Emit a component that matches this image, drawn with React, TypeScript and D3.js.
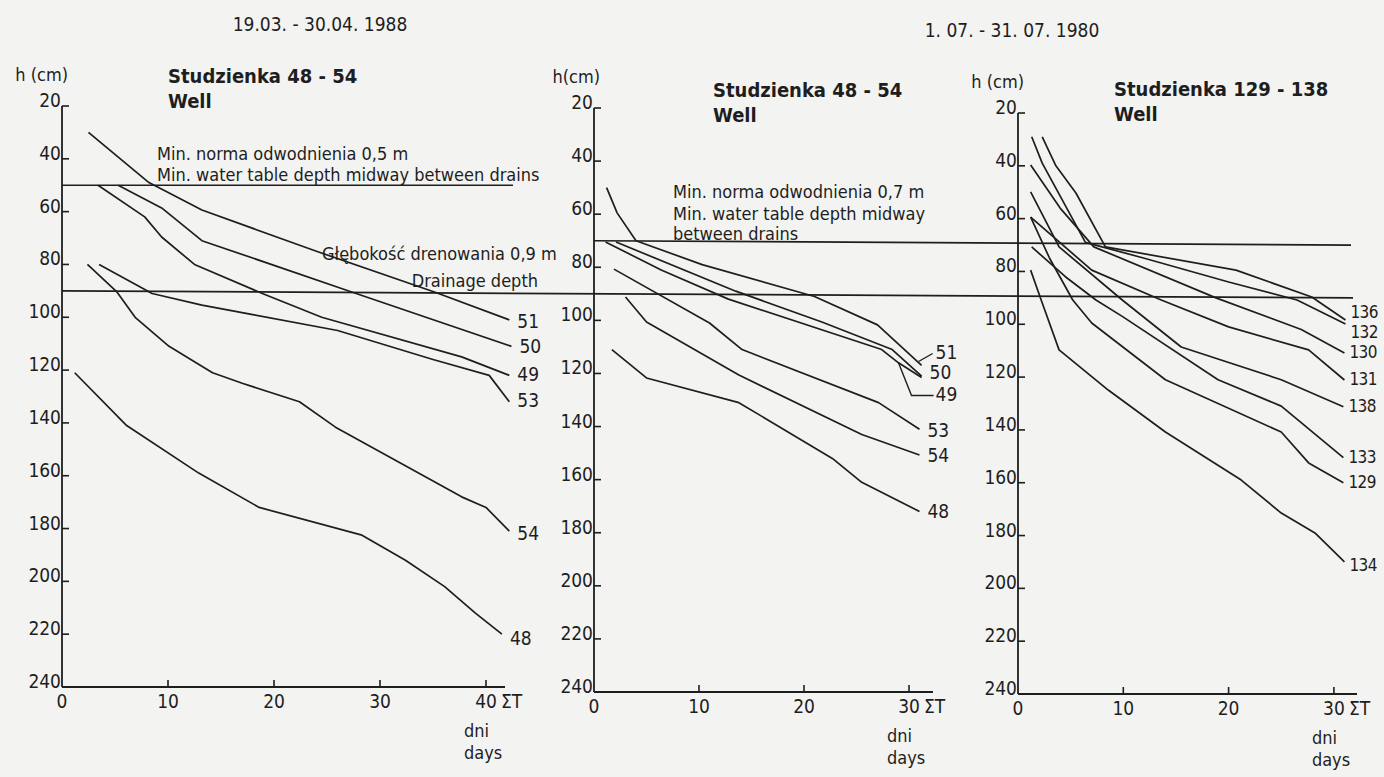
import React from "react";
import * as d3 from "d3";

// depth ticks (cm) and day ticks
const depthTicks = [20, 40, 60, 80, 100, 120, 140, 160, 180, 200, 220, 240];
const dayTicks1 = [0, 10, 20, 30, 40];
const dayTicks23 = [0, 10, 20, 30];

type Pt = [number, number]; // [day, depth cm]

// 19.03. - 30.04. 1988, wells 48-54
const p1w51: Pt[] = [[2.5, 30], [8.2, 49], [13.2, 59.4], [24, 75], [35.2, 90.5], [42.2, 101]];
const p1w50: Pt[] = [[5.3, 50], [9.4, 58.6], [13.2, 71], [27.4, 90.5], [42.4, 111]];
const p1w49: Pt[] = [[3.4, 50], [7.8, 62], [9.4, 69.6], [12.5, 80], [18.9, 91], [24.5, 100], [37.7, 115], [42.2, 122]];
const p1w53: Pt[] = [[3.5, 80], [8.5, 91], [13.2, 95.4], [18, 99], [26, 105], [35, 116], [40.3, 122], [42.2, 132]];
const p1w54: Pt[] = [[2.4, 80], [5.2, 90.5], [6.9, 100], [10.1, 111], [14.2, 121], [17, 125], [22.4, 132], [25.8, 141.6], [37.7, 168], [40, 172], [42.2, 181]];
const p1w48: Pt[] = [[1.2, 121], [6.1, 141], [12.9, 159], [18.6, 172], [28.3, 182.5], [32.4, 192], [36.1, 202], [39, 212], [41.5, 220]];

// 1.07. - 31.07. 1980, wells 48-54
const p2w51: Pt[] = [[1.2, 50], [2.2, 59.5], [4, 70], [10.3, 79], [21, 91], [27, 101.7], [31.2, 117]];
const p2w50: Pt[] = [[2.1, 70.5], [13.5, 89], [21.7, 100.6], [28.4, 111], [31.2, 121]];
const p2w49: Pt[] = [[1.1, 70.5], [6.4, 81], [12.8, 92], [27.4, 111], [29, 116], [31.2, 121.5]];
const p2w53: Pt[] = [[1.9, 80.7], [11, 101], [14.1, 111], [27.1, 131], [31, 141]];
const p2w54: Pt[] = [[3, 91.2], [5, 100.6], [13.8, 120.6], [25.5, 143], [31, 150.7]];
const p2w48: Pt[] = [[1.7, 111], [5, 121.7], [13.8, 131], [22.7, 152], [25.5, 161], [31, 172]];

// 1.07. - 31.07. 1980, wells 129-138
const p3w136: Pt[] = [[2.3, 29], [3.6, 40], [5.5, 50.3], [8.3, 70.7], [20.7, 79.5], [27.9, 89.7], [31.1, 98.4]];
const p3w132: Pt[] = [[1.3, 29], [2.3, 39], [6.4, 69], [12, 75], [20, 84], [26.5, 90.8], [31.1, 99.9]];
const p3w130: Pt[] = [[1.2, 39.7], [4, 56], [7.2, 70.7], [18.8, 90], [26.9, 102], [31, 110.9]];
const p3w131: Pt[] = [[1.2, 59.4], [7, 79.5], [13.6, 90.8], [20, 101], [27.6, 109.7], [31, 121.1]];
const p3w138: Pt[] = [[1.2, 49.9], [3.9, 70.7], [9.9, 90.8], [15.5, 108.6], [25, 121], [30.9, 131.2]];
const p3w133: Pt[] = [[1.3, 70.7], [4.5, 82], [7.4, 90.8], [9.9, 97], [19, 121], [25, 131], [30.9, 150.5]];
const p3w129: Pt[] = [[1.2, 59.4], [3, 75], [5.2, 90.8], [7, 99.5], [14, 121], [25, 140.8], [27.6, 152.5], [30.9, 160]];
const p3w134: Pt[] = [[1.2, 79.5], [2.2, 90.8], [3.9, 109.7], [8.6, 125], [14, 140.8], [21.2, 159], [25, 171.5], [28.2, 179], [31, 190]];

const W = 1384;
const H = 777;
const INK = "#1e1e1e";
const FONT = "'DejaVu Sans Condensed', 'DejaVu Sans', sans-serif";

type Series = { name: string; pts: Pt[]; dy?: number; leader?: "dash" | "bracket"; leaderAt?: Pt };

const panels = [
  {
    x0: 62, pxDay: 10.6, yTop: 106, yBot: 687, xEnd: 505, dayTicks: dayTicks1,
    unit: "h (cm)", title: "Studzienka  48 - 54", titleX: 168, titleY: 83,
    labelSize: 19, labelGap: 8,
    series: [
      { name: "51", pts: p1w51, dy: 3 },
      { name: "50", pts: p1w50, dy: 1 },
      { name: "49", pts: p1w49 },
      { name: "53", pts: p1w53 },
      { name: "54", pts: p1w54, dy: 3 },
      { name: "48", pts: p1w48, dy: 5 },
    ] as Series[],
  },
  {
    x0: 594, pxDay: 10.5, yTop: 108, yBot: 692, xEnd: 933, dayTicks: dayTicks23,
    unit: "h(cm)", title: "Studzienka 48 - 54", titleX: 713, titleY: 97,
    labelSize: 19, labelGap: 8,
    series: [
      { name: "51", pts: p2w51, dy: -12, leader: "dash" },
      { name: "50", pts: p2w50, dy: -3 },
      { name: "49", pts: p2w49, dy: 18, leader: "bracket", leaderAt: [29, 116] },
      { name: "53", pts: p2w53, dy: 2 },
      { name: "54", pts: p2w54, dy: 2 },
      { name: "48", pts: p2w48, dy: 1 },
    ] as Series[],
  },
  {
    x0: 1018, pxDay: 10.53, yTop: 113, yBot: 694, xEnd: 1357, dayTicks: dayTicks23,
    unit: "h (cm)", title: "Studzienka 129 - 138", titleX: 1114, titleY: 96,
    labelSize: 17, labelGap: 5,
    series: [
      { name: "136", pts: p3w136, dy: -7 },
      { name: "132", pts: p3w132, dy: 9 },
      { name: "130", pts: p3w130 },
      { name: "131", pts: p3w131 },
      { name: "138", pts: p3w138 },
      { name: "133", pts: p3w133 },
      { name: "129", pts: p3w129 },
      { name: "134", pts: p3w134, dy: 4 },
    ] as Series[],
  },
];

const scalesFor = (p: typeof panels[number]) => ({
  x: d3.scaleLinear().domain([0, 30]).range([p.x0, p.x0 + 30 * p.pxDay]),
  y: d3.scaleLinear().domain([20, 240]).range([p.yTop, p.yBot]),
});

const Panel = ({ p }: { p: typeof panels[number] }) => {
  const { x, y } = scalesFor(p);
  const line = d3.line<Pt>().x((d) => x(d[0])).y((d) => y(d[1]));
  const lastTick = p.dayTicks[p.dayTicks.length - 1];
  return (
    <g>
      {/* axes */}
      <line x1={p.x0} y1={y(20)} x2={p.x0} y2={y(240)} stroke={INK} strokeWidth={1.8} />
      <line x1={p.x0} y1={y(240)} x2={p.xEnd} y2={y(240)} stroke={INK} strokeWidth={1.8} />
      {depthTicks.map((t) => (
        <g key={t}>
          {t < 240 && <line x1={p.x0} x2={p.x0 + 7} y1={y(t)} y2={y(t)} stroke={INK} strokeWidth={1.6} />}
          <text x={p.x0 - 1} y={y(t) + 1} textAnchor="end" fontSize={19}>{t}</text>
        </g>
      ))}
      {p.dayTicks.map((t) => (
        <g key={t}>
          {t > 0 && <line x1={x(t)} x2={x(t)} y1={y(240)} y2={y(240) - 7} stroke={INK} strokeWidth={1.6} />}
          <text x={x(t)} y={y(240) + 21} textAnchor="middle" fontSize={19}>{t}</text>
        </g>
      ))}
      <text x={x(lastTick) + 15} y={y(240) + 21} fontSize={19}>ΣT</text>
      <text x={x(lastTick) - 22} y={y(240) + 50} fontSize={18}>dni</text>
      <text x={x(lastTick) - 22} y={y(240) + 72} fontSize={18}>days</text>
      <text x={p.x0 + 6} y={p.yTop - 25} textAnchor="end" fontSize={18}>{p.unit}</text>
      <text x={p.titleX} y={p.titleY} fontSize={20} fontWeight="bold">{p.title}</text>
      <text x={p.titleX} y={p.titleY + 25} fontSize={20} fontWeight="bold">Well</text>

      {/* well series */}
      {p.series.map((s) => {
        const end = s.pts[s.pts.length - 1];
        const ex = x(end[0]);
        const ey = y(end[1]);
        const lx = ex + p.labelGap;
        const ly = ey + (s.dy ?? 0);
        return (
          <g key={s.name}>
            <path d={line(s.pts) ?? ""} fill="none" stroke={INK} strokeWidth={1.7} strokeLinejoin="round" />
            {s.leader === "dash" && (
              <line x1={ex - 3} y1={ey - 4} x2={lx + 3} y2={ly} stroke={INK} strokeWidth={1.4} />
            )}
            {s.leader === "bracket" && s.leaderAt && (
              <polyline
                points={`${x(s.leaderAt[0])},${y(s.leaderAt[1])} ${x(s.leaderAt[0]) + 13},${ly} ${lx + 4},${ly}`}
                fill="none" stroke={INK} strokeWidth={1.4}
              />
            )}
            <text
              x={lx + (s.leader ? 6 : 0)}
              y={ly}
              dominantBaseline="middle"
              fontSize={p.labelSize}
              letterSpacing={p.labelSize < 19 ? -0.6 : 0}
            >
              {s.name}
            </text>
          </g>
        );
      })}
    </g>
  );
};

const App = () => {
  const [s1, s2, s3] = panels.map(scalesFor);
  return (
    <svg
      width={W}
      height={H}
      style={{ position: "absolute", left: 0, top: 0, background: "#f3f3f1" }}
      fontFamily={FONT}
      fill={INK}
    >
      <rect width={W} height={H} fill="#f3f3f1" />
      <text x={320} y={31} textAnchor="middle" fontSize={19}>19.03. - 30.04. 1988</text>
      <text x={1012} y={37} textAnchor="middle" fontSize={19}>1. 07. - 31. 07. 1980</text>

      {/* reference depths: 0,5 m (panel 1), 0,7 m (panels 2-3), drainage 0,9 m (all) */}
      <line x1={panels[0].x0} x2={513} y1={s1.y(50)} y2={s1.y(50)} stroke={INK} strokeWidth={1.7} />
      <line x1={panels[1].x0} x2={1351} y1={s2.y(70)} y2={s3.y(70)} stroke={INK} strokeWidth={1.7} />
      <line x1={panels[0].x0} x2={1353} y1={s1.y(90)} y2={s3.y(90)} stroke={INK} strokeWidth={1.7} />

      <g fontSize={18}>
        <text x={157} y={160}>Min. norma  odwodnienia  0,5 m</text>
        <text x={157} y={181}>Min. water table depth midway between drains</text>
        <text x={322} y={260}>Głębokość drenowania 0,9 m</text>
        <text x={538} y={287} textAnchor="end">Drainage  depth</text>
        <text x={673} y={198}>Min. norma  odwodnienia  0,7 m</text>
        <text x={673} y={220}>Min. water  table  depth  midway</text>
        <text x={673} y={240}>between  drains</text>
      </g>

      {panels.map((p, i) => (
        <Panel key={i} p={p} />
      ))}
    </svg>
  );
};

export default App;
